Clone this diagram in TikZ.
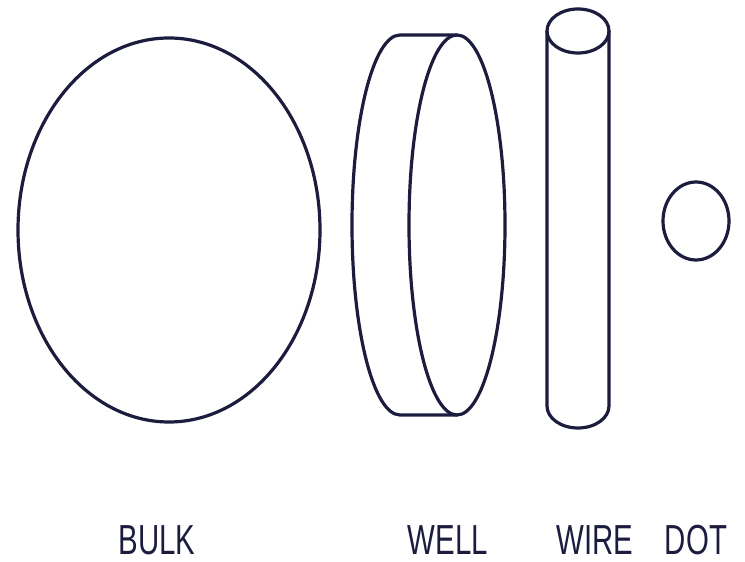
\documentclass[tikz,border=0pt]{standalone}
\usepackage{fontspec}
\setmainfont[FakeStretch=0.7]{Liberation Sans}
\usepackage{tikz}
\definecolor{inkblue}{RGB}{28,28,62}
\tikzset{
    outline/.style={draw=inkblue, line width=3.2pt, line join=round},
    dimlabel/.style={anchor=base, inner sep=0pt, text=inkblue, font=\fontsize{42}{42}\selectfont}
}
\begin{document}
\begin{tikzpicture}[x=1pt, y=1pt]
        \useasboundingbox (0,0) rectangle (745,562);

        % -----------------------------------------------------------------
        % BULK
        % -----------------------------------------------------------------
        \draw[outline] (169,332) ellipse [x radius=151, y radius=192];

        % -----------------------------------------------------------------
        % WELL
        % -----------------------------------------------------------------
        \draw[outline] (457,337) ellipse [x radius=48, y radius=190];
        \draw[outline] (457,527) -- (400,527)
            arc [start angle=90, end angle=270, x radius=48, y radius=190] -- (457,147);

        % -----------------------------------------------------------------
        % WIRE
        % -----------------------------------------------------------------
        \draw[outline] (578,531) ellipse [x radius=31, y radius=22];
        \draw[outline] (547,531) -- (547,156)
            arc [start angle=180, end angle=360, x radius=31, y radius=22] -- (609,531);

        % -----------------------------------------------------------------
        % DOT
        % -----------------------------------------------------------------
        \draw[outline] (696,341) ellipse [x radius=33, y radius=39];

        % -----------------------------------------------------------------
        % ETICHETTE
        % -----------------------------------------------------------------
        \node[dimlabel] (bulk) at (157,7) {BULK};
        \node[dimlabel] (well) at (448,7) {WELL};
        \node[dimlabel] (wire) at (595,7) {WIRE};
        \node[dimlabel] (dot) at (696,7) {DOT};

    \end{tikzpicture}
\end{document}
